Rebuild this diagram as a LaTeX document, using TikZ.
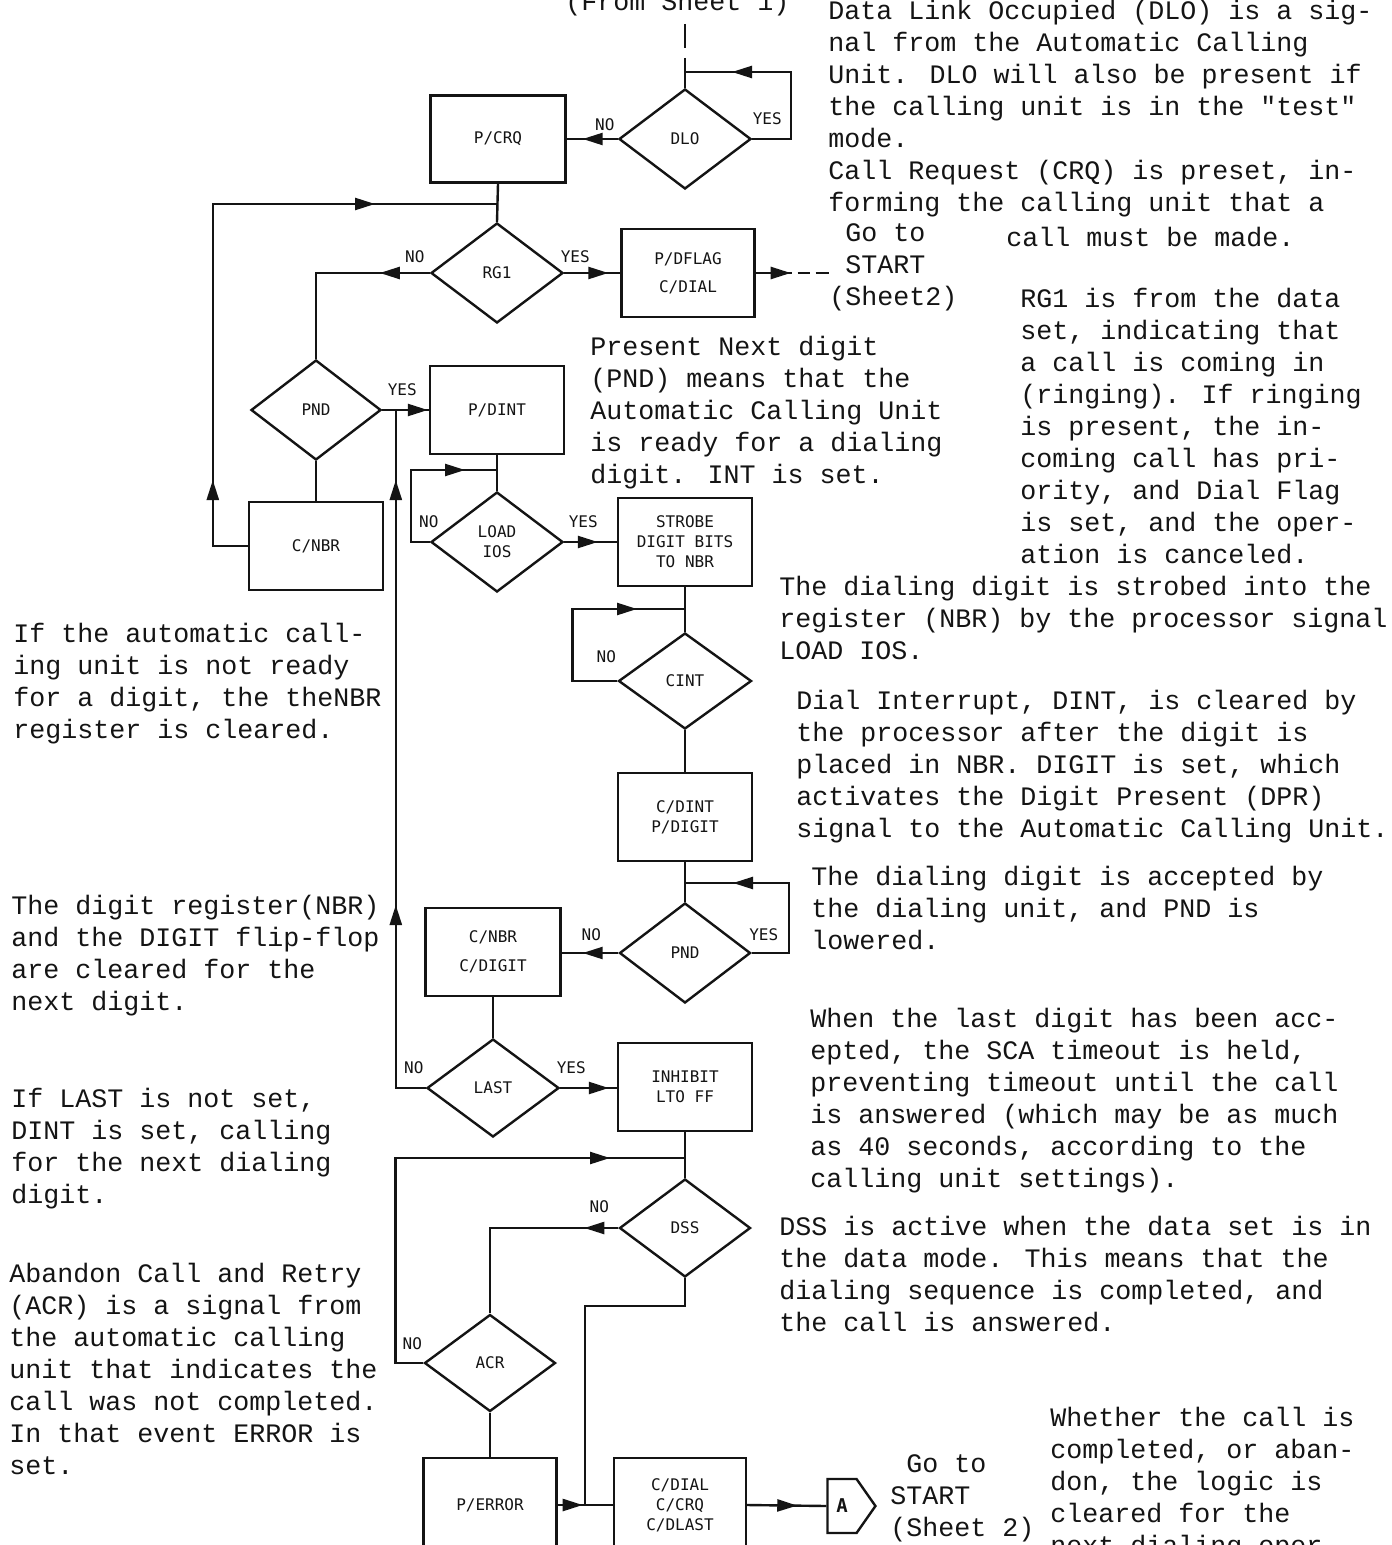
\documentclass[tikz,border=0pt]{standalone}
\usepackage{fontspec}
\usepackage{tikz}
\usetikzlibrary{positioning,arrows.meta,calc,shapes.geometric,shapes.symbols,decorations.markings}
\newfontfamily\notefont{Liberation Mono}
\newfontfamily\boxfont{DejaVu Sans Mono}
\definecolor{ink}{RGB}{20,20,20}
\newcommand\notesize{\notefont\fontsize{13.33pt}{16pt}\selectfont}
\newcommand\boxsize{\boxfont\fontsize{8pt}{10pt}\selectfont}
\tikzset{
  box/.style={draw=ink, rectangle, line width=1.2pt, minimum width=67pt, minimum height=44pt,
    align=center, inner sep=1pt, font=\boxsize, text=ink},
  dec/.style={draw=ink, diamond, line width=1.2pt, minimum width=66pt, minimum height=50pt,
    align=center, inner sep=0pt, font=\boxsize, text=ink},
  yn/.style={inner sep=0pt, font=\boxsize, text=ink},
  note/.style={anchor=north west, align=left, inner sep=0pt, font=\notesize, text=ink,
    yshift=-2.5pt, execute at begin node=\strut},
  conn/.style={line width=1.2pt, draw=ink},
  arr/.style={postaction={decorate, decoration={markings,
    mark=at position #1 with {\arrow{Triangle[length=10pt,width=6pt]}}}}},
  offpage/.style={draw=ink, signal, signal to=east, signal pointer angle=110, line width=1.2pt,
    minimum width=24pt, minimum height=27pt, inner sep=0pt,
    font=\boxfont\fontsize{9.5pt}{11pt}\selectfont\bfseries, text=ink},
}

\begin{document}
\begin{tikzpicture}[x=0.5pt, y=-0.5pt]
\useasboundingbox (0,0) rectangle (1391,1545);
\fill[white] (0,0) rectangle (1391,1545);

\node[dec] (dlo) at (685,139) {DLO};
\node[box, minimum width=67.5pt, minimum height=43.5pt] (crq) at (498,139) {P/CRQ};
\node[dec] (rg1) at (497,273) {RG1};
\node[box, minimum width=66.5pt] (dflag) at (688,273) {P/DFLAG\\[4pt]C/DIAL};
\node[dec, minimum width=65pt] (pnd) at (316,410) {PND};
\node[box] (dint) at (497,410) {P/DINT};
\node[dec] (loadios) at (497,542) {LOAD\\IOS};
\node[box] (strobe) at (685,542) {STROBE\\DIGIT BITS\\TO NBR};
\node[box] (cnbr) at (316,546) {C/NBR};
\node[dec, minimum width=66.5pt, minimum height=48pt] (cint) at (685,681) {CINT};
\node[box] (cdint) at (685,817) {C/DINT\\P/DIGIT};
\node[dec, minimum width=65.5pt] (pnd2) at (685,953) {PND};
\node[box, minimum width=67.5pt] (cdigit) at (493,952) {C/NBR\\[4.5pt]C/DIGIT};
\node[dec, minimum height=49pt] (last) at (493,1088) {LAST};
\node[box] (inhibit) at (685,1087) {INHIBIT\\LTO FF};
\node[dec, minimum width=65.5pt, minimum height=49pt] (dss) at (685,1228) {DSS};
\node[dec, minimum width=65.5pt, minimum height=48.5pt] (acr) at (490,1363) {ACR};
\node[box, minimum width=66.5pt, minimum height=47pt] (perror) at (490,1505) {P/ERROR};
\node[box, minimum width=66pt, minimum height=47pt] (cdial) at (680,1505) {C/DIAL\\C/CRQ\\C/DLAST};
\node[offpage] (conA) at (842,1506) {A};

\node[yn] at ([shift={(-13,-14)}]dlo.west) {NO};
\node[yn] at ([shift={(15,-20)}]dlo.east) {YES};
\node[yn] at ([shift={(-15,-16)}]rg1.west) {NO};
\node[yn] at ([shift={(11,-16)}]rg1.east) {YES};
\node[yn] at ([shift={(20,-20)}]pnd.east) {YES};
\node[yn] at ([shift={(-1,-20)}]loadios.west) {NO};
\node[yn] at ([shift={(19,-20)}]loadios.east) {YES};
\node[yn] at ([shift={(-11,-24)}]cint.west) {NO};
\node[yn] at ([shift={(-27,-18)}]pnd2.west) {NO};
\node[yn] at ([shift={(12,-18)}]pnd2.east) {YES};
\node[yn] at ([shift={(-12,-20)}]last.west) {NO};
\node[yn] at ([shift={(11,-20)}]last.east) {YES};
\node[yn] at ([shift={(-19,-21)}]dss.west) {NO};
\node[yn] at ([shift={(-11,-19)}]acr.west) {NO};

\node[note] (fromnote) at (565,-17.4) {(From Sheet 1)};
\node[note] (dlonote) at (828,-5.4) {Data Link Occupied (DLO) is a sig-\\
nal from the Automatic Calling\\
Unit. DLO will also be present if\\
the calling unit is in the \char34 test\char34\\
mode.\\
Call Request (CRQ) is preset, in-\\
forming the calling unit that a};
\node[note] (callnote) at (1006,218.6) {call must be made.};
\node[note] (gostart1) at (829,218.6) {\ Go to\\\ START\\(Sheet2)};
\node[note] (rg1note) at (1020,282.6) {RG1 is from the data\\
set, indicating that\\
a call is coming in\\
(ringing). If ringing\\
is present, the in-\\
coming call has pri-\\
ority, and Dial Flag\\
is set, and the oper-\\
ation is canceled.};
\node[note] (pndnote) at (590,330.6) {Present Next digit\\
(PND) means that the\\
Automatic Calling Unit\\
is ready for a dialing\\
digit. INT is set.};
\node[note] (strobenote) at (779,570.6) {The dialing digit is strobed into the\\
register (NBR) by the processor signal\\
LOAD IOS.};
\node[note] (dintnote) at (796,684.6) {Dial Interrupt, DINT, is cleared by\\
the processor after the digit is\\
placed in NBR. DIGIT is set, which\\
activates the Digit Present (DPR)\\
signal to the Automatic Calling Unit.};
\node[note] (acceptnote) at (811,860.6) {The dialing digit is accepted by\\
the dialing unit, and PND is\\
lowered.};
\node[note] (lastnote) at (810,1002.6) {When the last digit has been acc-\\
epted, the SCA timeout is held,\\
preventing timeout until the call\\
is answered (which may be as much\\
as 40 seconds, according to the\\
calling unit settings).};
\node[note] (dssnote) at (779,1210.6) {DSS is active when the data set is in\\
the data mode. This means that the\\
dialing sequence is completed, and\\
the call is answered.};
\node[note] (endnote) at (1050,1401.6) {Whether the call is\\
completed, or aban-\\
don, the logic is\\
cleared for the\\
next dialing oper-};
\node[note] (gostart2) at (890,1449.6) {\ Go to\\START\\(Sheet 2)};
\node[note] (notready) at (13,617.6) {If the automatic call-\\
ing unit is not ready\\
for a digit, the theNBR\\
register is cleared.};
\node[note] (regnote) at (11,889.6) {The digit register(NBR)\\
and the DIGIT flip-flop\\
are cleared for the\\
next digit.};
\node[note] (notlast) at (11,1082.6) {If LAST is not set,\\
DINT is set, calling\\
for the next dialing\\
digit.};
\node[note] (acrnote) at (9,1257.6) {Abandon Call and Retry\\
(ACR) is a signal from\\
the automatic calling\\
unit that indicates the\\
call was not completed.\\
In that event ERROR is\\
set.};

\coordinate (entry) at (685,24);
\coordinate (dlojoin) at (685,72);
\coordinate (rg1join) at (497,204);
\coordinate (dintjoin) at (397,410);
\coordinate (loadjoin) at (497,470);
\coordinate (cintjoin) at (685,609);
\coordinate (pndjoin) at (685,883);
\coordinate (dssjoin) at (685,1158);
\coordinate (cdialjoin) at (585,1505);

\draw[conn, dash pattern=on 12pt off 5pt] (entry) -- (dlojoin);
\draw[conn] (dlojoin) -- (dlo.north);
\draw[conn, arr=-23.5pt] (dlo.east) -- ++(39,0) |- (dlojoin);
\draw[conn, arr=-8pt] (dlo.west) -- (crq.east);
\draw[conn] (crq.south) -- (rg1.north);
\draw[conn, arr=50.5pt, arr=-61pt] (cnbr.west) -- ++(-35,0) |- (rg1join);
\draw[conn, arr=25pt] (rg1.west) -| (pnd.north);
\draw[conn, arr=-6pt] (rg1.east) -- (dflag.west);
\draw[conn, arr=17.5pt, dash pattern=on 18pt off 3pt on 6pt off 3pt on 7pt off 2pt]
  (dflag.east) -- (dflag.east -| gostart1.west);
\draw[conn, arr=-0.5pt] (pnd.east) -- (dint.west);
\draw[conn] (cnbr.north) -- (pnd.south);
\draw[conn] (dint.south) -- (loadios.north);
\draw[conn, arr=-16pt] (loadios.west) -- ++(-19,0) |- (loadjoin);
\draw[conn, arr=-9.5pt] (loadios.east) -- (strobe.west);
\draw[conn] (strobe.south) -- (cint.north);
\draw[conn, arr=-24pt] (cint.west) -- ++(-45,0) |- (cintjoin);
\draw[conn] (cint.south) -- (cdint.north);
\draw[conn] (cdint.south) -- (pnd2.north);
\draw[conn, arr=-24pt] (pnd2.east) -- ++(37,0) |- (pndjoin);
\draw[conn, arr=-10.5pt] (pnd2.west) -- (pnd2.west -| cdigit.east);
\draw[conn] (cdigit.south) -- (last.north);
\draw[conn, arr=-4pt] (last.east) -- (last.east -| inhibit.west);
\draw[conn, arr=106.5pt, arr=319pt] (last.west) -- ++(-30,0) |- (dintjoin);
\draw[conn] (inhibit.south) -- (dss.north);
\draw[conn, arr=-37.5pt] (acr.west) -- ++(-28,0) |- (dssjoin);
\draw[conn, arr=17pt] (dss.west) -| (acr.north);
\draw[conn] (acr.south) -- (perror.north);
\draw[conn, arr=12.5pt] (perror.east) -- (cdial.west);
\draw[conn] (dss.south) -- ++(0,28) -| (cdialjoin);
\draw[conn, arr=-14.5pt] (cdial.east) -- (conA.west);
\end{tikzpicture}
\end{document}
